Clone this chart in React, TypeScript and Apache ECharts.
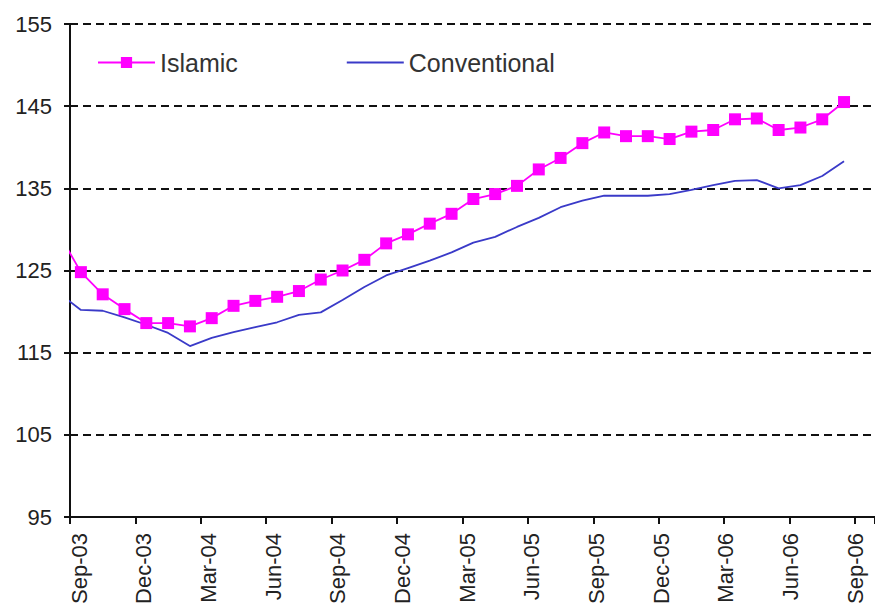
import React, { useEffect, useRef } from "react";
import * as echarts from "echarts";

const tickLabels = ["Sep-03", "Dec-03", "Mar-04", "Jun-04", "Sep-04", "Dec-04", "Mar-05", "Jun-05", "Sep-05", "Dec-05", "Mar-06", "Jun-06", "Sep-06"];

// first value is the line's lead-in point (no marker), then monthly points
const islamic = [128.5, 124.8, 122.1, 120.3, 118.6, 118.6, 118.2, 119.2, 120.7, 121.3, 121.8, 122.5, 123.9, 125.0, 126.3, 128.3, 129.4, 130.7, 131.9, 133.7, 134.3, 135.3, 137.3, 138.7, 140.5, 141.8, 141.35, 141.35, 141.0, 141.9, 142.1, 143.4, 143.5, 142.1, 142.4, 143.4, 145.5];
const conventional = [121.8, 120.2, 120.1, 119.3, 118.4, 117.4, 115.8, 116.8, 117.5, 118.1, 118.7, 119.6, 119.9, 121.4, 123.0, 124.4, 125.3, 126.2, 127.2, 128.4, 129.1, 130.3, 131.4, 132.7, 133.5, 134.1, 134.1, 134.1, 134.3, 134.8, 135.4, 135.9, 136.0, 135.0, 135.4, 136.5, 138.3];

const monthPos = (i: number) => (i === 0 ? -0.3 : i - 0.5);

export default function App() {
  const ref = useRef<HTMLDivElement>(null);
  useEffect(() => {
    if (!ref.current) return;
    const chart = echarts.init(ref.current, undefined, { renderer: "svg" });
    const font = "'Liberation Sans', Arial, sans-serif";
    const fmt = (v: number) => {
      const k = Math.round(v / 3);
      return Math.abs(v - k * 3) < 1e-6 && tickLabels[k] ? tickLabels[k] : "";
    };
    chart.setOption({
      animation: false,
      backgroundColor: "#ffffff",
      textStyle: { fontFamily: font },
      grid: [
        { left: 70, right: 0, top: 24, bottom: 94, containLabel: false },
        { left: 79, right: -9, top: 24, bottom: 94, containLabel: false },
      ],
      legend: {
        left: 97,
        top: 50,
        padding: 0,
        itemWidth: 57,
        itemHeight: 14,
        itemGap: 108,
        textStyle: { fontSize: 25, color: "#333", fontFamily: font },
        data: [
          { name: "Islamic" },
          { name: "Conventional", itemStyle: { opacity: 0 } },
        ],
      },
      xAxis: [
        {
          type: "value",
          gridIndex: 0,
          min: 0,
          max: 36.92,
          interval: 3,
          axisLine: { lineStyle: { color: "#111", width: 2 } },
          axisTick: { length: 7, lineStyle: { color: "#111", width: 2 } },
          splitLine: { show: false },
          axisLabel: { show: false },
        },
        {
          type: "value",
          gridIndex: 1,
          min: 0,
          max: 36.92,
          interval: 3,
          axisLine: { show: false },
          axisTick: { show: false },
          splitLine: { show: false },
          axisLabel: {
            rotate: 90,
            margin: 16,
            fontSize: 22,
            color: "#222",
            fontFamily: font,
            showMaxLabel: false,
            formatter: fmt,
          },
        },
      ],
      yAxis: [
        {
          type: "value",
          gridIndex: 0,
          min: 95,
          max: 155,
          interval: 10,
          axisLine: { show: true, lineStyle: { color: "#111", width: 2 } },
          axisTick: { show: true, length: 6, lineStyle: { color: "#111", width: 2 } },
          splitLine: { show: true, lineStyle: { color: "#111", width: 2, type: [8, 5] } },
          axisLabel: { margin: 18, fontSize: 22, color: "#222", fontFamily: font },
        },
        { type: "value", gridIndex: 1, min: 95, max: 155, show: false },
      ],
      series: [
        {
          name: "Conventional",
          type: "line",
          symbol: "none",
          clip: false,
          lineStyle: { color: "#3a3ac8", width: 1.8 },
          itemStyle: { color: "#3a3ac8" },
          data: conventional.map((v, i) => [monthPos(i), v]),
          z: 3,
        },
        {
          name: "Islamic",
          type: "line",
          symbol: "rect",
          symbolSize: 12,
          clip: false,
          lineStyle: { color: "#ff00ff", width: 1.8 },
          itemStyle: { color: "#ff00ff" },
          data: islamic.map((v, i) =>
            i === 0 ? { value: [monthPos(i), v], symbol: "none" } : [monthPos(i), v]
          ),
          z: 4,
        },
      ],
    });
    return () => chart.dispose();
  }, []);
  return (
    <div
      ref={ref}
      style={{ position: "fixed", left: 0, top: 0, width: 875, height: 611, background: "#fff" }}
    />
  );
}
